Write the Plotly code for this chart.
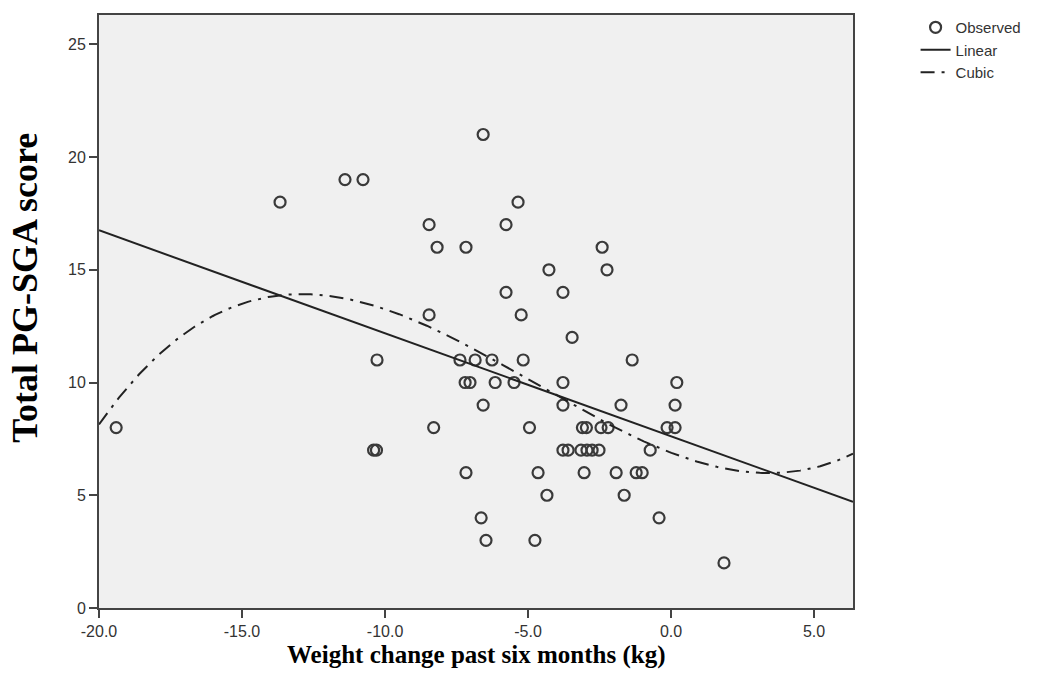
import numpy as np
import plotly.graph_objects as go

# Observed data (weight change kg, PG-SGA score)
weight_change = [-19.4, -13.67, -11.4, -10.77, -10.28, -10.4, -10.3,
                 -8.46, -8.46, -8.18, -8.3, -7.17, -7.17, -6.57,
                 -5.35, -5.77, -2.41, -4.27, -2.24, -5.77, -3.78, -5.24, -3.46,
                 -7.38, -6.85, -6.26, -5.17, -1.36,
                 -7.2, -7.03, -6.15, -5.49, -3.78, 0.2,
                 -6.57, -3.78, -1.75, 0.14,
                 -4.95, -3.1, -2.96, -2.45, -2.2, -0.14, 0.14,
                 -3.78, -3.6, -3.15, -2.94, -2.76, -2.52, -0.73,
                 -4.65, -3.04, -1.92, -1.22, -1.01,
                 -4.34, -1.64,
                 -6.64, -0.42,
                 -6.47, -4.76,
                 1.85]
pgsga_score = [8, 18, 19, 19, 11, 7, 7,
               17, 13, 16, 8, 16, 6, 21,
               18, 17, 16, 15, 15, 14, 14, 13, 12,
               11, 11, 11, 11, 11,
               10, 10, 10, 10, 10, 10,
               9, 9, 9, 9,
               8, 8, 8, 8, 8, 8, 8,
               7, 7, 7, 7, 7, 7, 7,
               6, 6, 6, 6, 6,
               5, 5,
               4, 4,
               3, 3,
               2]

x_ticks = [-20, -15, -10, -5, 0, 5]
x_tick_labels = ["-20.0", "-15.0", "-10.0", "-5.0", "0.0", "5.0"]
y_ticks = [0, 5, 10, 15, 20, 25]
x_range = [-20, 6.36]
y_range = [0, 26.3]

xs = np.array(weight_change, dtype=float)
ys = np.array(pgsga_score, dtype=float)
lin = np.polyfit(xs, ys, 1)
cub = np.polyfit(xs, ys, 3)
grid = np.linspace(x_range[0], x_range[1], 300)

fig = go.Figure()
fig.add_trace(go.Scatter(
    x=weight_change, y=pgsga_score, mode="markers", name="Observed",
    marker=dict(symbol="circle-open", size=11, color="#3a3a3a",
                line=dict(width=2.2, color="#3a3a3a")),
))
fig.add_trace(go.Scatter(
    x=grid, y=np.polyval(lin, grid), mode="lines", name="Linear",
    line=dict(color="#222222", width=2),
))
fig.add_trace(go.Scatter(
    x=grid, y=np.polyval(cub, grid), mode="lines", name="Cubic",
    line=dict(color="#222222", width=2, dash="14px,7px,3px,7px"),
))

tick_font = dict(family="Liberation Sans, Arial", size=16, color="#333333")
fig.update_layout(
    width=1046, height=683,
    margin=dict(l=99, r=193, t=14, b=75),
    paper_bgcolor="white", plot_bgcolor="#f0f0f0",
    showlegend=True,
    legend=dict(x=1.083, y=1.005, xanchor="left", yanchor="top",
                font=dict(family="Liberation Sans, Arial", size=15, color="#333333"),
                bgcolor="rgba(0,0,0,0)", tracegroupgap=0, itemwidth=30),
    xaxis=dict(range=x_range, tickvals=x_ticks, ticktext=x_tick_labels,
               showgrid=False, zeroline=False, showline=True, mirror=True,
               linecolor="#444444", linewidth=2, ticks="outside", ticklen=8,
               tickwidth=2, tickcolor="#444444", tickfont=tick_font),
    yaxis=dict(range=y_range, tickvals=y_ticks,
               showgrid=False, zeroline=False, showline=True, mirror=True,
               linecolor="#444444", linewidth=2, ticks="outside", ticklen=8,
               tickwidth=2, tickcolor="#444444", tickfont=tick_font),
    annotations=[
        dict(text="<b>Weight change past six months (kg)</b>", xref="paper", yref="paper",
             x=0.5, y=0, yshift=-47, xanchor="center", yanchor="middle", showarrow=False,
             font=dict(family="Liberation Serif, Times New Roman, serif", size=25, color="black")),
        dict(text="<b>Total PG-SGA score</b>", xref="paper", yref="paper",
             x=0, xshift=-74, y=0.54, xanchor="center", yanchor="middle", textangle=-90,
             showarrow=False,
             font=dict(family="Liberation Serif, Times New Roman, serif", size=36, color="black")),
    ],
)

fig.write_html("out.html")
